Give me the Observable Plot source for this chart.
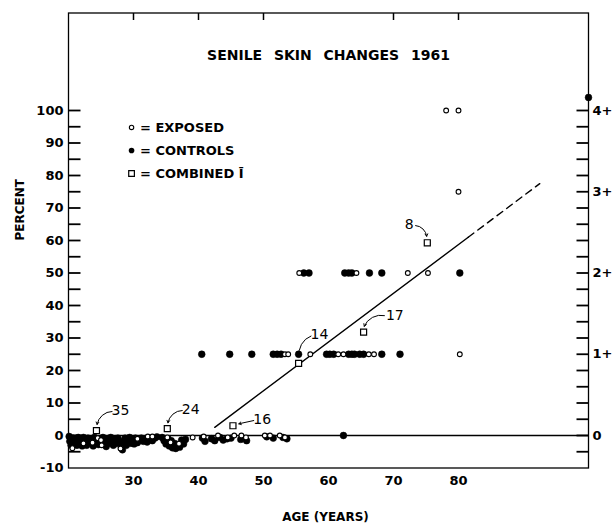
<!DOCTYPE html>
<html><head><meta charset="utf-8">
<script src="https://cdn.jsdelivr.net/npm/d3@7"></script>
<script src="https://cdn.jsdelivr.net/npm/@observablehq/plot@0.6"></script>
<style>body{margin:0;background:#fff}#chart{width:614px;height:524px}</style>
</head><body><div id="chart"></div>
<script>
// ---- data (age in years, percent) ----
const exposed = [
  [20.6,-3.9],[22.3,-2.4],[23.7,-2.2],[24.5,-0.8],[25.0,-1.4],[25.1,-3.0],[28.0,-4.0],[30.6,-1.0],
  [32.2,-0.3],[32.9,-0.3],[35.2,-0.6],[35.7,-2.1],[37.0,-2.5],[39.1,-0.6],[40.8,-0.3],[43.0,0],
  [44.5,-0.6],[45.5,0],[46.6,0],[47.3,-0.6],[50.2,0],[51.0,0],[52.5,0],[53.3,-0.6],
  [53.3,25],[53.8,25],[57.2,25],[61.5,25],[62.3,25],[66.2,25],[67.0,25],[80.2,25],
  [55.5,50],[64.3,50],[72.2,50],[75.3,50],
  [80,75],[78.1,100],[80,100]
];
const controls = [
  [20.1,-0.3],[20.2,-1.8],[20.4,-3.0],[20.7,-0.8],[20.9,-2.2],[21.1,-1.0],[21.3,-3.0],[21.5,-0.6],
  [21.7,-2.0],[21.9,-1.2],[22.1,-3.2],[22.3,-0.6],[22.6,-1.6],[22.8,-3.0],[23.0,-0.8],[23.2,-2.0],
  [23.5,-1.0],[23.8,-3.2],[24.0,-0.6],[24.2,-2.0],[24.6,-2.8],[24.9,-1.6],[25.3,-0.6],[25.5,-2.2],
  [25.8,-3.4],[26.0,-1.0],[26.2,-2.4],[26.5,-0.6],[26.7,-1.8],[26.9,-3.0],[27.2,-1.0],[27.4,-2.4],
  [27.6,-0.8],[27.9,-1.8],[28.1,-3.2],[28.3,-4.4],[28.5,-2.2],[28.7,-0.8],[28.9,-3.0],[29.1,-1.6],
  [29.4,-0.6],[29.6,-2.4],[29.9,-1.2],[30.1,-2.6],[30.3,-0.8],[30.6,-2.2],[30.9,-1.4],[31.2,-0.8],
  [31.5,-1.8],[31.8,-1.0],[32.1,-2.0],[32.5,-1.2],[32.9,-1.6],[33.3,-0.8],[33.6,-0.4],
  [34.4,-0.6],[34.7,-1.6],[35.0,-2.6],[35.3,-1.0],[35.5,-3.2],[35.8,-1.6],[36.0,-3.8],[36.3,-2.4],
  [36.5,-4.0],[36.8,-2.8],[37.1,-3.6],[37.4,-1.4],[37.7,-2.6],[38.0,-1.2],
  [40.6,-0.8],[41.0,-1.8],[42.0,-1.0],[42.5,-1.6],[43.3,-0.6],[43.8,-1.4],[44.4,-1.0],[45.0,-0.8],
  [46.5,-1.2],[47.4,-1.6],[50.5,-0.4],[51.5,-0.8],[53.0,-0.6],[53.6,-1.0],[62.3,0],
  [40.5,25],[44.8,25],[48.2,25],[51.5,25],[52.1,25],[52.7,25],[55.4,25],[59.7,25],[60.2,25],
  [60.8,25],[63.1,25],[63.6,25],[64.0,25],[64.8,25],[65.4,25],[68.2,25],[71.0,25],
  [56.2,50],[57.0,50],[62.5,50],[63.1,50],[63.6,50],[66.3,50],[68.2,50],[80.2,50],
  [100,104]
];
const combinedAge = [24.3, 35.2, 45.3, 55.4, 65.4, 75.2];
const combinedPct = [1.5, 2.1, 3.0, 22.2, 31.8, 59.3];
const combinedN   = [35, 24, 16, 14, 17, 8];
// annotation label spots (age, percent) and arrow starts/ends
const noteAge   = [28.0, 38.8, 49.8, 58.6, 70.2, 72.4];
const notePct   = [7.7, 8.0, 4.9, 31.1, 36.9, 64.9];
const arrowAge  = [26.7, 37.5, 48.5, 57.3, 68.6, 73.4];
const arrowPct  = [7.4, 7.7, 4.6, 30.6, 36.9, 64.6];
const arrowEndAge = [24.4, 35.3, 46.2, 55.5, 65.5, 75.1];
const arrowEndPct = [3.4, 3.9, 3.6, 24.2, 33.6, 61.3];
// trend line
const trendSolidAge = [42.5, 81.5];
const trendSolidPct = [2.5, 61];
const trendDashAge = [81.5, 92.5];
const trendDashPct = [61, 77.5];
// axes
const xLabels = [30, 40, 50, 60, 70, 80];
const topTicks = [30, 40, 50, 70, 80];
const yLabels = [100, 90, 80, 70, 60, 50, 40, 30, 20, 10, 0, -10];
const yTicks = [100, 95, 90, 85, 80, 75, 70, 65, 60, 55, 50, 45, 40, 35, 30, 25, 20, 15, 10, 5, 0, -5];
const rightVals = [0, 25, 50, 75, 100];
const rightText = ["0", "1+", "2+", "3+", "4+"];
const legendText = ["= EXPOSED", "= CONTROLS", "= COMBINED Ī"];

const combined = combinedAge.map((a, i) => ({age: a, pct: combinedPct[i], n: combinedN[i]}));
const notes = combinedN.map((n, i) => ({n, x: noteAge[i], y: notePct[i], x1: arrowAge[i], y1: arrowPct[i], x2: arrowEndAge[i], y2: arrowEndPct[i]}));
const toPts = (a, b) => a.map((v, i) => ({age: v, pct: b[i]}));

const xDom = [20, 100], yDom = [-10, 130];
const plotW = 614 - 68 - 26, plotH = 524 - 12.5 - 56.5;
const xPerPx = (xDom[1] - xDom[0]) / plotW, yPerPx = (yDom[1] - yDom[0]) / plotH;
const tickLen = 12, topTickLen = 7;
const leftTickRows = yTicks.map(v => ({v, a: xDom[0], b: xDom[0] + tickLen * xPerPx}));
const rightTickRows = yTicks.map(v => ({v, a: xDom[1] - tickLen * xPerPx, b: xDom[1]}));
const topTickRows = topTicks.map(v => ({v, a: yDom[1], b: yDom[1] - topTickLen * yPerPx}));

const arrowOpts = {x1: "x1", y1: "y1", x2: "x2", y2: "y2", stroke: "black", strokeWidth: 1, headLength: 4};
const chart = Plot.plot({
  width: 614, height: 524,
  marginLeft: 68, marginRight: 26, marginTop: 12.5, marginBottom: 56.5,
  x: {domain: xDom, axis: null},
  y: {domain: yDom, axis: null},
  style: {fontFamily: "DejaVu Sans", fontSize: "13px"},
  marks: [
    Plot.frame({stroke: "black", strokeWidth: 1.3}),
    Plot.ruleY([0], {stroke: "black", strokeWidth: 1.3}),
    Plot.link(leftTickRows, {x1: "a", x2: "b", y1: "v", y2: "v", stroke: "black", strokeWidth: 1.8}),
    Plot.link(rightTickRows, {x1: "a", x2: "b", y1: "v", y2: "v", stroke: "black", strokeWidth: 1.8}),
    Plot.link(topTickRows, {x1: "v", x2: "v", y1: "a", y2: "b", stroke: "black", strokeWidth: 1.5}),
    Plot.text(yLabels, {y: d => d, frameAnchor: "left", dx: -5, textAnchor: "end", text: d => String(d), fontSize: 13, fontWeight: "bold", fill: "black"}),
    Plot.text(rightVals, {y: d => d, frameAnchor: "right", dx: 4, textAnchor: "start", text: (d, i) => rightText[i], fontSize: 13, fontWeight: "bold", fill: "black"}),
    Plot.text(xLabels, {x: d => d, frameAnchor: "bottom", dy: 13, lineAnchor: "middle", text: d => String(d), fontSize: 13, fontWeight: "bold", fill: "black"}),
    Plot.text(["AGE (YEARS)"], {frameAnchor: "bottom", dy: 49.5, dx: -3, lineAnchor: "middle", fontSize: 12, fontWeight: "bold", fill: "black"}),
    Plot.text(["PERCENT"], {frameAnchor: "left", dx: -48, rotate: -90, fontSize: 12, fontWeight: "bold", fill: "black"}),
    Plot.text(["SENILE  SKIN  CHANGES  1961"], {x: 60, y: 117, fontSize: 14, fontWeight: "bold", fill: "black", className: "ttl"}),
    // trend
    Plot.line(toPts(trendSolidAge, trendSolidPct), {x: "age", y: "pct", stroke: "black", strokeWidth: 1.4}),
    Plot.line(toPts(trendDashAge, trendDashPct), {x: "age", y: "pct", stroke: "black", strokeWidth: 1.4, strokeDasharray: "7,5"}),
    // points
    Plot.dot(controls, {x: d => d[0], y: d => d[1], r: 3.4, fill: "black", stroke: "black", strokeWidth: 0.5}),
    Plot.dot(exposed, {x: d => d[0], y: d => d[1], r: 2.4, fill: "white", stroke: "black", strokeWidth: 1.1}),
    Plot.dot(combined, {x: "age", y: "pct", symbol: "square", r: 3.4, fill: "white", stroke: "black", strokeWidth: 1.2}),
    // annotations
    Plot.arrow(notes.filter(d => d.n !== 16 && d.n !== 8), {...arrowOpts, bend: -40}),
    Plot.arrow(notes.filter(d => d.n === 16), {...arrowOpts, bend: 0}),
    Plot.arrow(notes.filter(d => d.n === 8), {...arrowOpts, bend: 40}),
    Plot.text(notes, {x: "x", y: "y", text: d => String(d.n), fontSize: 14, fill: "black"}),
    // legend
    Plot.dot([legendText[0]], {x: 29.7, y: 94.8, r: 2.2, fill: "white", stroke: "black", strokeWidth: 1.1}),
    Plot.dot([legendText[1]], {x: 29.7, y: 87.7, r: 2.8, fill: "black"}),
    Plot.dot([legendText[2]], {x: 29.7, y: 80.6, symbol: "square", r: 3.2, fill: "white", stroke: "black", strokeWidth: 1.2}),
    Plot.text(legendText, {x: 31.0, y: (d, i) => 94.8 - i * 7.1, text: d => d, textAnchor: "start", fontSize: 13, fontWeight: "bold", fill: "black"})
  ]
});
document.getElementById("chart").appendChild(chart);
d3.select(chart).selectAll(".ttl text").attr("xml:space", "preserve").style("word-spacing", "1px").style("white-space", "pre");
</script>
</body></html>
